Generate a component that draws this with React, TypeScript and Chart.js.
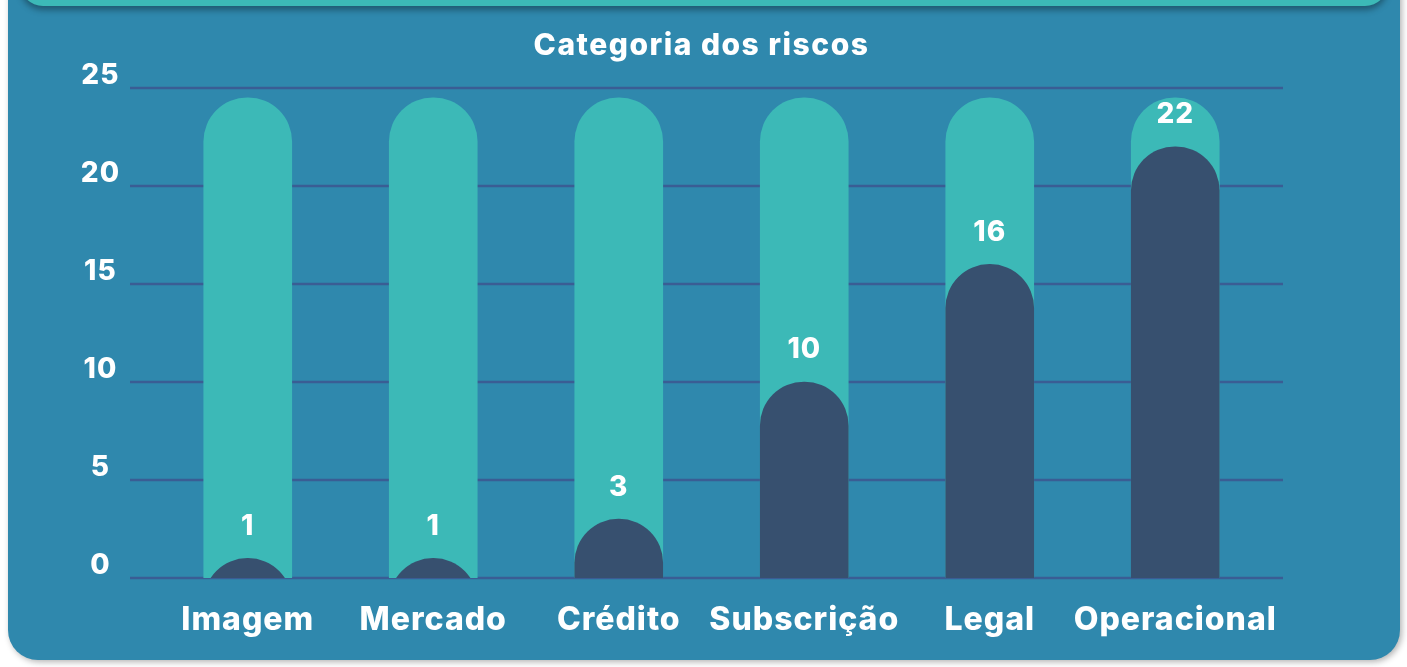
import React, { useEffect, useRef } from "react";
import { Chart, registerables } from "chart.js";

Chart.register(...registerables);

const categories = ["Imagem", "Mercado", "Crédito", "Subscrição", "Legal", "Operacional"];
const riskCounts = [1, 1, 3, 10, 16, 22];
const trackValues = [24.5, 24.5, 24.5, 24.5, 24.5, 24.5];
const yTicks = [0, 5, 10, 15, 20, 25];
const chartTitle = "Categoria dos riscos";

const PANEL = "#2f88ad";
const TEAL = "#3cb9b7";
const DARK = "#37506f";
const GRID = "#3a5d94";
const FONT = "Inter, 'Open Sans', sans-serif";

const spacingPlugin = {
  id: "letterSpacing",
  beforeDraw(chart: any) {
    chart.ctx.letterSpacing = "1px";
  },
};

const gridPlugin = {
  id: "customGrid",
  beforeDatasetsDraw(chart: any) {
    const { ctx, chartArea, scales } = chart;
    const y = scales.y;
    ctx.save();
    ctx.strokeStyle = GRID;
    ctx.lineWidth = 2.5;
    y.ticks.forEach((t: any) => {
      const py = y.getPixelForValue(t.value);
      ctx.beginPath();
      ctx.moveTo(chartArea.left - 25, py);
      ctx.lineTo(chartArea.right + 15, py);
      ctx.stroke();
    });
    ctx.restore();
  },
};

const titlePlugin = {
  id: "centerTitle",
  afterDraw(chart: any) {
    const { ctx, chartArea } = chart;
    ctx.save();
    ctx.letterSpacing = "1.5px";
    ctx.fillStyle = "#ffffff";
    ctx.font = `800 30px ${FONT}`;
    ctx.textAlign = "center";
    ctx.textBaseline = "middle";
    ctx.fillText(chartTitle, (chartArea.left + chartArea.right) / 2 - 10, chartArea.top - 42);
    ctx.restore();
  },
};

const labelPlugin = {
  id: "valueLabels",
  afterDatasetsDraw(chart: any) {
    const { ctx } = chart;
    const meta = chart.getDatasetMeta(1);
    ctx.save();
    ctx.letterSpacing = "1px";
    ctx.fillStyle = "#ffffff";
    ctx.font = `800 28px ${FONT}`;
    ctx.textAlign = "center";
    ctx.textBaseline = "middle";
    meta.data.forEach((el: any, i: number) => {
      ctx.fillText(String(riskCounts[i]), el.x, el.y - 32);
    });
    ctx.restore();
  },
};

export default function App() {
  const ref = useRef<HTMLCanvasElement | null>(null);

  useEffect(() => {
    if (!ref.current) return;
    const chart = new Chart(ref.current, {
      type: "bar",
      data: {
        labels: categories,
        datasets: [
          {
            data: trackValues,
            backgroundColor: TEAL,
            borderRadius: 44,
            borderSkipped: "start",
            barThickness: 88,
            grouped: false,
            order: 2,
          } as any,
          {
            data: riskCounts,
            backgroundColor: DARK,
            borderRadius: 44,
            borderSkipped: "start",
            barThickness: 88,
            grouped: false,
            base: -6,
            order: 1,
          } as any,
        ],
      },
      options: {
        responsive: false,
        animation: false,
        layout: { padding: { left: 55, right: 139, top: 88, bottom: 29 } },
        plugins: {
          legend: { display: false },
          tooltip: { enabled: false },
          title: { display: false },
        },
        scales: {
          x: {
            grid: { display: false, drawTicks: false },
            border: { display: false },
            ticks: {
              color: "#ffffff",
              font: { family: FONT, size: 32, weight: "800" },
              padding: 23,
              maxRotation: 0,
              autoSkip: false,
            },
            afterFit(scale: any) {
              scale.height = 60;
            },
          },
          y: {
            min: 0,
            max: 25,
            grid: { display: false, drawTicks: false },
            border: { display: false },
            afterBuildTicks(scale: any) {
              scale.ticks = yTicks.map((v) => ({ value: v }));
            },
            ticks: {
              color: "#ffffff",
              font: { family: FONT, size: 28, weight: "800" },
              padding: 36,
              crossAlign: "center",
              labelOffset: -12,
            },
            afterFit(scale: any) {
              scale.width = 100;
            },
          },
        },
      },
      plugins: [spacingPlugin, gridPlugin, labelPlugin, titlePlugin],
    });
    return () => chart.destroy();
  }, []);

  return (
    <div style={{ position: "fixed", left: 0, top: 0, width: 1407, height: 667, background: "#ffffff", overflow: "hidden" }}>
      <div
        style={{
          position: "absolute",
          left: 8,
          top: -40,
          width: 1392,
          height: 700,
          background: PANEL,
          borderRadius: 30,
          boxShadow: "2px 2px 6px rgba(0,0,0,0.3)",
        }}
      />
      <div
        style={{
          position: "absolute",
          left: 20,
          top: -40,
          width: 1368,
          height: 46,
          background: TEAL,
          borderRadius: 24,
          boxShadow: "0 4px 6px rgba(0,0,0,0.35)",
        }}
      />
      <canvas ref={ref} width={1407} height={667} style={{ position: "absolute", left: 0, top: 0 }} />
    </div>
  );
}
